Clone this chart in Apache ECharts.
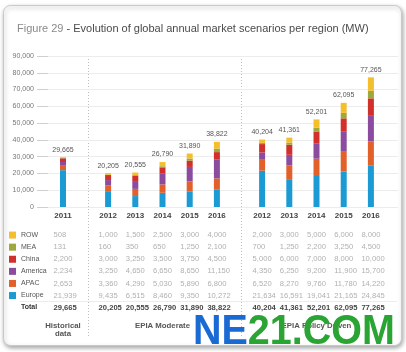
<!DOCTYPE html>
<html>
<head>
<meta charset="utf-8">
<script src="https://cdn.jsdelivr.net/npm/echarts@6/dist/echarts.min.js"></script>
<style>
  html, body { margin: 0; padding: 0; background: #fff; }
  #chart { width: 406px; height: 352px; }
</style>
</head>
<body>
<div id="chart"></div>
<script>
// 年份 / 分组
var years = ['2011', '2012', '2013', '2014', '2015', '2016', '2012', '2013', '2014', '2015', '2016'];
var groupNames = ['Historical\ndata', 'EPIA Moderate', 'EPIA Policy Driven'];
var groupRanges = [[0, 1], [1, 6], [6, 11]];

// 各地区数据 (MW)
var ROW = [508, 1000, 1500, 2500, 3000, 4000, 2000, 3000, 5000, 6000, 8000];
var MEA = [131, 160, 350, 650, 1250, 2100, 700, 1250, 2200, 3250, 4500];
var China = [2200, 3000, 3250, 3500, 3750, 4500, 5000, 6000, 7000, 8000, 10000];
var America = [2234, 3250, 4650, 6650, 8650, 11150, 4350, 6250, 9200, 11900, 15700];
var APAC = [2653, 3360, 4290, 5030, 5890, 6800, 6520, 8270, 9760, 11780, 14220];
var Europe = [21939, 9435, 6515, 8460, 9350, 10272, 21634, 16591, 19041, 21165, 24845];
var Total = [29665, 20205, 20555, 26790, 31890, 38822, 40204, 41361, 52201, 62095, 77265];

var yTicks = [0, 10000, 20000, 30000, 40000, 50000, 60000, 70000, 80000, 90000];

// 堆叠顺序（底 -> 顶）
var stackOrder = [
    { name: 'Europe', data: Europe, color: '#1b9ad3' },
    { name: 'APAC', data: APAC, color: '#e2612b' },
    { name: 'America', data: America, color: '#8b4b9f' },
    { name: 'China', data: China, color: '#d2302b' },
    { name: 'MEA', data: MEA, color: '#9fa83a' },
    { name: 'ROW', data: ROW, color: '#f3bf2d' }
];
var tableRows = [ROW, MEA, China, America, APAC, Europe];

function fmt(v) {
    return v.toLocaleString('en-US');
}

var chart = echarts.init(document.getElementById('chart'));

var grids = [{ left: 48, right: 8, top: 56, bottom: 145 }];
var gridPos = [[48, 30], [94.5, 136], [248.5, 136]];
var xAxes = [{ gridIndex: 0, type: 'value', show: false }];
var yAxes = [{
    gridIndex: 0,
    type: 'value',
    min: yTicks[0],
    max: yTicks[yTicks.length - 1],
    interval: yTicks[1] - yTicks[0],
    axisLine: { show: false },
    axisTick: { show: true, length: 11, lineStyle: { color: '#cfcfcf' } },
    axisLabel: { margin: 14, fontSize: 7, color: '#777', fontFamily: 'Liberation Sans', formatter: fmt },
    splitLine: { lineStyle: { color: '#ececec' } }
}];
var series = [];

groupRanges.forEach(function (r, g) {
    var s = r[0], e = r[1];
    grids.push({ left: gridPos[g][0], width: gridPos[g][1], top: 56, bottom: 145 });
    // 年份轴
    xAxes.push({
        gridIndex: g + 1,
        type: 'category',
        position: 'bottom',
        data: years.slice(s, e),
        axisLine: { show: false },
        axisTick: { show: false },
        axisLabel: { interval: 0, margin: 4, fontSize: 8, lineHeight: 10, fontWeight: 'bold', color: '#444', fontFamily: 'Liberation Sans' },
        name: groupNames[g],
        nameLocation: 'middle',
        nameGap: 115,
        nameTextStyle: { fontSize: 7.8, fontWeight: 'bold', color: '#555', lineHeight: 8, fontFamily: 'Liberation Sans', verticalAlign: 'top' }
    });
    // 表格轴
    xAxes.push({
        gridIndex: g + 1,
        type: 'category',
        position: 'bottom',
        offset: 22,
        data: years.slice(s, e),
        axisLine: { show: false },
        axisTick: { show: false },
        axisLabel: {
            interval: 0,
            margin: 0,
            fontFamily: 'Liberation Sans',
            formatter: function (value, i) {
                var k = s + i;
                var lines = tableRows.map(function (arr) { return '{v|' + fmt(arr[k]) + '}'; });
                lines.push('{t|' + fmt(Total[k]) + '}');
                return lines.join('\n');
            },
            rich: {
                v: { fontSize: 7.6, color: '#b0b0b0', lineHeight: 12.1, width: 19, align: 'left', fontFamily: 'Liberation Sans' },
                t: { fontSize: 7.6, color: '#444', fontWeight: 'bold', lineHeight: 12.1, width: 19, align: 'left', fontFamily: 'Liberation Sans' }
            }
        }
    });
    yAxes.push({ gridIndex: g + 1, type: 'value', min: 0, max: 90000, show: false });

    stackOrder.forEach(function (reg) {
        var ser = {
            type: 'bar',
            name: reg.name,
            xAxisIndex: 1 + 2 * g,
            yAxisIndex: g + 1,
            stack: 'g' + g,
            barWidth: 6,
            itemStyle: { color: reg.color },
            data: reg.data.slice(s, e)
        };
        if (reg.name === 'ROW') {
            ser.label = {
                show: true,
                position: 'top',
                distance: 4,
                fontSize: 7,
                color: '#555',
                fontFamily: 'Liberation Sans',
                formatter: function (p) { return fmt(Total[s + p.dataIndex]); }
            };
        }
        series.push(ser);
    });
});

var option = {
    backgroundColor: '#fff',
    animation: false,
    title: {
        left: 12,
        top: 17,
        text: '{a|Figure 29} - Evolution of global annual market scenarios per region (MW)',
        textStyle: {
            fontSize: 11,
            lineHeight: 14,
            fontWeight: 'normal',
            color: '#4a4a4a',
            fontFamily: 'Liberation Sans',
            rich: { a: { fontSize: 11, color: '#8a8a8a', fontFamily: 'Liberation Sans' } }
        }
    },
    legend: {
        orient: 'vertical',
        left: 9,
        top: 229,
        padding: 0,
        itemGap: 0,
        itemWidth: 7,
        itemHeight: 7,
        icon: 'rect',
        selectedMode: false,
        data: ['ROW', 'MEA', 'China', 'America', 'APAC', 'Europe'],
        textStyle: { fontSize: 7, color: '#555', lineHeight: 12.1, fontFamily: 'Liberation Sans' }
    },
    grid: grids,
    xAxis: xAxes,
    yAxis: yAxes,
    series: series,
    graphic: [
        {
            type: 'rect', z: -10, silent: true,
            shape: { x: 3.5, y: 5.5, width: 398, height: 340, r: 7 },
            style: { fill: '#fff', stroke: '#c9c9c9', lineWidth: 1, shadowBlur: 4, shadowOffsetY: 2, shadowOffsetX: 1, shadowColor: 'rgba(0,0,0,0.35)' }
        },
        {
            type: 'line', silent: true,
            shape: { x1: 88.5, y1: 56, x2: 88.5, y2: 338 },
            style: { stroke: '#bdbdbd', lineWidth: 1, lineDash: [1, 2] }
        },
        {
            type: 'line', silent: true,
            shape: { x1: 241.5, y1: 56, x2: 241.5, y2: 338 },
            style: { stroke: '#bdbdbd', lineWidth: 1, lineDash: [1, 2] }
        },
        {
            type: 'line', silent: true,
            shape: { x1: 20, y1: 301.5, x2: 397, y2: 301.5 },
            style: { stroke: '#ececec', lineWidth: 1 }
        },
        {
            type: 'text', silent: true,
            left: 21, top: 303.5,
            style: { text: 'Total', fontSize: 7, fontWeight: 'bold', fill: '#333', fontFamily: 'Liberation Sans' }
        },
        {
            type: 'text', silent: true, z: 100,
            x: 193, y: 311, scaleX: 0.94,
            style: {
                text: '{a|NE}{b|21.COM}',
                rich: {
                    a: { fontSize: 42, fontWeight: 'bold', fill: '#1a6ad4', fontFamily: 'Liberation Sans' },
                    b: { fontSize: 42, fontWeight: 'bold', fill: '#2aa534', fontFamily: 'Liberation Sans' }
                }
            }
        }
    ]
};

chart.setOption(option);
</script>
</body>
</html>
